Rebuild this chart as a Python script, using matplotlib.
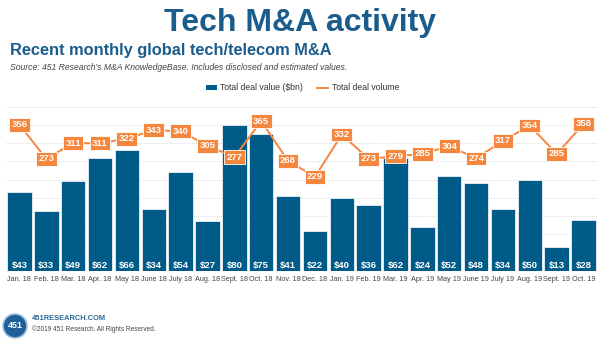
import matplotlib
matplotlib.use('Agg')
import matplotlib.pyplot as plt
from matplotlib.patches import Patch, Ellipse
from matplotlib.lines import Line2D

plt.rcParams['font.family'] = ['Liberation Sans', 'DejaVu Sans']

months = ['Jan. 18', 'Feb. 18', 'Mar. 18', 'Apr. 18', 'May 18', 'June 18', 'July 18',
          'Aug. 18', 'Sept. 18', 'Oct. 18', 'Nov. 18', 'Dec. 18', 'Jan. 19', 'Feb. 19',
          'Mar. 19', 'Apr. 19', 'May 19', 'June 19', 'July 19', 'Aug. 19', 'Sept. 19', 'Oct. 19']
deal_value = [43, 33, 49, 62, 66, 34, 54, 27, 80, 75, 41, 22, 40, 36, 62, 24, 52, 48, 34, 50, 13, 28]
deal_volume = [356, 273, 311, 311, 322, 343, 340, 305, 277, 365, 268, 229, 332, 273, 279, 285,
               304, 274, 317, 354, 285, 358]

blue = '#005b88'
orange = '#f4863e'
title_blue = '#1a5d8c'

fig = plt.figure(figsize=(6, 3.4), dpi=100)
ax = fig.add_axes([0.01, 0.204, 0.985, 0.482])
x = list(range(len(months)))

ax.bar(x, deal_value, width=0.91, color=blue, edgecolor='white', linewidth=0.5, zorder=2)
for i, v in enumerate(deal_value):
    ax.text(i, 2.6, f'${v}', ha='center', va='center', color='white',
            fontsize=6.8, fontweight='bold', zorder=3)
ax.set_ylim(0, 90)
ax.set_xlim(-0.5, len(months) - 0.5)
ax.set_yticks(range(10, 91, 10))
ax.set_yticklabels([])
ax.yaxis.grid(True, color='#cfcfcf', linewidth=0.6, linestyle=(0, (1, 1.5)))
ax.set_axisbelow(True)
ax.set_xticks(x)
ax.set_xticklabels(months, fontsize=5.2, color='#444444')
ax.tick_params(axis='x', length=0, pad=4)
for s in ax.spines.values():
    s.set_visible(False)

ax2 = ax.twinx()
ax2.plot(x, deal_volume, color=orange, linewidth=1.4, zorder=4)
for i, v in enumerate(deal_volume):
    ax2.text(i, v, str(v), ha='center', va='center', color='white', fontsize=6.8,
             fontweight='bold', zorder=5,
             bbox=dict(boxstyle='square,pad=0.25', facecolor=orange, edgecolor='white', linewidth=0.6))
ax2.set_ylim(0, 400)
ax2.axis('off')
# twinx turns the left ticks back on
ax.tick_params(axis='y', length=0, left=False, right=False)

handles = [Patch(facecolor=blue), Line2D([0], [0], color=orange, linewidth=1.4)]
fig.legend(handles, ['Total deal value ($bn)', 'Total deal volume'], loc='center',
           bbox_to_anchor=(0.504, 1 - 88 / 340), ncol=2, frameon=False, fontsize=6.2,
           handlelength=1.3, handleheight=0.5, handletextpad=0.4, columnspacing=1.6,
           labelcolor='#333333')

fig.text(0.5, 1 - 23 / 340, 'Tech M&A activity', ha='center', va='center',
         fontsize=23, fontweight='bold', color=title_blue)
fig.text(10 / 600, 1 - 50 / 340, 'Recent monthly global tech/telecom M&A', ha='left', va='center',
         fontsize=11.8, fontweight='bold', color=title_blue)
fig.text(10 / 600, 1 - 67 / 340,
         "Source: 451 Research's M&A KnowledgeBase. Includes disclosed and estimated values.",
         ha='left', va='center', fontsize=6.2, style='italic', color='#444444')

# footer logo
fig.patches.append(Ellipse((15 / 600, 1 - 326 / 340), 24 / 600, 24 / 340, transform=fig.transFigure,
                           facecolor='#1f5f9a', edgecolor='#9fc3e0', linewidth=1.2))
fig.text(15 / 600, 1 - 326 / 340, '451', ha='center', va='center', color='white',
         fontsize=6.5, fontweight='bold')
fig.text(32 / 600, 1 - 319 / 340, '451RESEARCH.COM', ha='left', va='center',
         fontsize=5.4, fontweight='bold', color='#2a6a9a')
fig.text(32 / 600, 1 - 329 / 340, '\u00a92019 451 Research. All Rights Reserved.', ha='left',
         va='center', fontsize=4.7, color='#444444')

fig.savefig('out.png', dpi=100)
